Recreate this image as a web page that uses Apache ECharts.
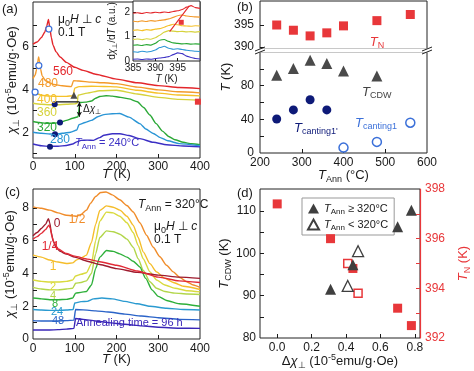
<!DOCTYPE html>
<html><head><meta charset="utf-8">
<script src="https://cdn.jsdelivr.net/npm/echarts@6/dist/echarts.min.js"></script>
<style>html,body{margin:0;padding:0;background:#fff}#c{width:474px;height:371px}</style>
</head><body><div id="c"></div>
<script>
const FONT = 'Arial, "Liberation Sans", Helvetica, sans-serif';

// ---------- panel (a): chi vs T for annealing temperatures ----------
const a560 = [[0,6.1],[10,6.2],[20,6.4],[28,6.65],[33,6.95],[37,7.25],[40,6.9],[44,6.4],[48,6.05],[55,5.75],[65,5.5],[80,5.25],[100,5.02],[120,4.88],[150,4.7],[200,4.47],[250,4.3],[300,4.17],[350,4.08],[400,4.03]];
const a480 = [[0,4.5],[5,4.65],[9,4.95],[12,5.35],[13.5,5.5],[15,5.35],[18,4.95],[22,4.62],[30,4.4],[50,4.22],[70,4.16],[92,4.12],[97,4.4],[110,4.38],[140,4.33],[170,4.3],[200,4.26],[250,4.1],[300,3.97],[350,3.88],[400,3.83]];
const a400 = [[0,3.85],[5,3.88],[10,3.79],[20,3.72],[40,3.68],[60,3.67],[80,3.67],[96,3.7],[100,4.05],[110,4.12],[140,4.14],[170,4.13],[200,4.11],[250,3.95],[300,3.82],[350,3.73],[400,3.69]];
const a360 = [[0,3.35],[20,3.3],[40,3.28],[60,3.28],[80,3.3],[100,3.32],[106,3.35],[108,3.72],[130,3.82],[160,3.93],[200,3.95],[250,3.78],[300,3.62],[350,3.53],[400,3.49]];
const a320 = [[0,2.5],[15,2.45],[30,2.42],[50,2.42],[65,2.45],[80,2.55],[95,2.65],[108,2.72],[112,3.38],[125,3.4],[140,3.45],[150,3.58],[160,3.66],[175,3.7],[190,3.68],[210,3.62],[230,3.55],[250,3.42],[265,3.15],[280,2.8],[295,2.4],[310,2.05],[325,1.8],[340,1.65],[360,1.53],[380,1.46],[400,1.42]];
const a280 = [[0,2.0],[20,1.95],[40,1.92],[55,1.92],[70,1.95],[90,2.0],[105,2.1],[110,2.35],[125,2.45],[140,2.55],[155,2.72],[170,2.82],[190,2.86],[208,2.87],[230,2.7],[256,2.4],[270,2.15],[288,1.94],[305,1.75],[323,1.6],[350,1.47],[400,1.37]];
const a240 = [[0,1.45],[20,1.37],[40,1.34],[60,1.35],[80,1.38],[95,1.45],[105,1.55],[115,1.62],[130,1.63],[145,1.62],[160,1.75],[170,1.86],[190,1.93],[208,1.93],[230,1.85],[256,1.7],[288,1.53],[320,1.42],[360,1.36],[400,1.32]];
const aExtrap = [[55,3.41],[111,3.41]];
const aDelta = [[111,3.41],[111,2.72]];
const aCanting1p = [[40.7,1.32],[52.7,1.91],[64.7,2.45],[52,3.3]];
const aCanting1 = [[5,3.87],[14,5.1],[38,6.8]];
const aCDW = [[98,3.72]];
const aTN = [[395,3.42]];

// ---------- inset: d chi / dT ----------
const insetT = [385,386,387,388,389,390,391,392,393,394,395,396,397,398,399,400];
const in560 = [1.95,1.97,1.94,1.98,1.96,1.99,1.97,2.0,1.98,2.02,2.05,2.1,2.2,2.26,2.18,2.15];
const in480 = [1.62,1.6,1.64,1.61,1.65,1.63,1.66,1.68,1.72,1.78,1.85,1.88,1.84,1.82,1.8,1.79];
const in400 = [1.25,1.27,1.24,1.28,1.26,1.3,1.32,1.38,1.45,1.5,1.48,1.44,1.43,1.42,1.44,1.43];
const in360 = [0.88,0.9,0.87,0.91,0.89,0.95,1.05,1.18,1.24,1.22,1.2,1.21,1.19,1.2,1.18,1.2];
const in320 = [0.64,0.66,0.63,0.67,0.65,0.72,0.85,0.88,0.8,0.74,0.72,0.7,0.71,0.69,0.7,0.69];
const in280 = [0.38,0.36,0.4,0.37,0.39,0.45,0.55,0.6,0.52,0.48,0.5,0.47,0.44,0.42,0.4,0.39];
const in240 = [0.07,0.08,0.06,0.08,0.07,0.1,0.12,0.14,0.18,0.26,0.33,0.3,0.2,0.14,0.1,0.08];
const inGuide = [[393.2,1.2],[397.6,2.25]];
const inTN = [[395.8,1.58]];

// ---------- panels (b) & (d) ----------
const annealT   = [240, 280, 320, 360, 400, 480, 560];
const tN        = [395.0, 393.8, 392.5, 393.2, 394.8, 396.0, 397.4];
const tCDW      = [92.3, 100.5, 110.2, 106.3, 97.3, 91.5, null];
const tCant1p   = [40.4, 51.2, 63.2, 51.2, null, null, null];
const tCant1    = [null, null, null, null, 6.4, 13.2, 36];
const deltaChi  = [0.41, 0.47, 0.78, 0.70, 0.44, 0.31, 0.0];

// ---------- panel (c): chi vs T for annealing times ----------
const c0  = [[0,6.3],[10,6.5],[20,6.75],[30,7.0],[37,7.35],[40,7.1],[44,6.5],[48,6.0],[55,5.6],[65,5.35],[80,5.18],[100,5.0],[130,4.75],[160,4.55],[200,4.3],[250,4.07],[300,3.9],[350,3.78],[400,3.7]];
const c14 = [[0,6.1],[10,6.25],[20,6.45],[30,6.68],[38,6.95],[41,6.8],[45,6.3],[50,5.9],[60,5.5],[80,5.22],[100,5.06],[130,4.88],[160,4.72],[200,4.5],[250,4.15],[300,3.78],[350,3.55],[400,3.45]];
const c12 = [[0,8.07],[20,7.98],[40,7.87],[60,7.7],[80,7.56],[95,7.52],[104,7.5],[115,7.6],[128,7.87],[138,8.3],[150,8.7],[162,8.95],[175,8.98],[190,8.8],[208,8.5],[225,8.15],[240,7.76],[256,7.1],[272,6.34],[288,5.6],[304,5.02],[320,4.5],[336,4.1],[352,3.75],[368,3.5],[384,3.3],[400,3.15]];
const c1  = [[0,5.12],[20,5.0],[40,4.82],[60,4.7],[80,4.61],[95,4.65],[104,4.82],[115,4.95],[128,5.12],[140,5.9],[150,7.0],[160,7.85],[176,8.13],[192,8.05],[208,7.87],[225,7.5],[240,6.95],[252,6.2],[264,5.32],[280,4.6],[296,4.1],[316,3.7],[336,3.45],[360,3.22],[400,3.02]];
const c2  = [[0,3.6],[20,3.52],[40,3.48],[60,3.48],[80,3.52],[95,3.6],[102,3.85],[115,3.95],[128,4.05],[140,4.6],[150,6.0],[160,7.2],[176,7.75],[192,7.7],[208,7.5],[225,7.1],[240,6.5],[252,5.7],[264,4.9],[280,4.1],[296,3.6],[316,3.3],[340,3.1],[370,2.95],[400,2.88]];
const c4  = [[0,3.15],[20,3.05],[40,3.0],[60,3.0],[80,3.05],[95,3.1],[102,3.4],[115,3.45],[128,3.55],[140,4.0],[150,5.2],[160,6.2],[176,6.6],[192,6.55],[208,6.4],[225,6.1],[240,5.6],[252,4.9],[264,4.2],[280,3.5],[296,3.1],[316,2.9],[340,2.8],[370,2.75],[400,2.72]];
const c8  = [[0,2.5],[20,2.45],[40,2.4],[60,2.4],[80,2.42],[95,2.5],[102,2.8],[115,2.85],[128,2.9],[140,3.3],[150,4.3],[160,5.0],[176,5.4],[192,5.35],[208,5.2],[225,5.0],[240,4.75],[256,4.4],[270,3.7],[285,3.0],[300,2.6],[320,2.35],[350,2.15],[400,2.0]];
const c24 = [[0,1.8],[20,1.77],[40,1.75],[60,1.75],[80,1.77],[96,1.8],[100,2.2],[115,2.28],[130,2.3],[145,2.45],[165,2.5],[190,2.45],[220,2.3],[250,2.15],[280,2.0],[320,1.88],[360,1.8],[400,1.77]];
const c48 = [[0,1.12],[20,1.1],[40,1.1],[60,1.1],[80,1.12],[98,1.15],[102,1.8],[120,1.78],[150,1.72],[180,1.65],[220,1.52],[260,1.4],[300,1.3],[350,1.2],[400,1.17]];
const c96 = [[0,0.55],[20,0.55],[40,0.55],[60,0.57],[80,0.6],[98,0.65],[102,1.25],[120,1.2],[150,1.1],[180,1.0],[220,0.9],[260,0.8],[300,0.72],[350,0.66],[400,0.65]];

// ---------- styling ----------
const COL = {
  a560:'#e3262b', a480:'#f39a2b', a400:'#f5c12a', a360:'#d6d23c', a320:'#2aa836', a280:'#2a95d5', a240:'#3b2fc4',
  c0:'#9e1b2e', c14:'#e22a36', c12:'#f08c2a', c1:'#f5bd2a', c2:'#d9da3e', c4:'#b2d64a', c8:'#2eb03a', c24:'#2a9ad0', c48:'#2a63c8', c96:'#3a26b8',
  red:'#e8373a', gray:'#4a4a4a', navy:'#0e1a78', blue:'#3b70d9', ink:'#1a1a1a'
};
function rich(color, size) {
  const lh = size + 4, ss = Math.round(size * 0.72);
  return {
    n:{fontFamily:FONT,fontSize:size,color:color,fill:color,lineHeight:lh},
    i:{fontFamily:FONT,fontSize:size,fontStyle:'italic',color:color,fill:color,lineHeight:lh},
    s:{fontFamily:FONT,fontSize:ss,color:color,fill:color,lineHeight:ss+1,verticalAlign:'bottom'},
    p:{fontFamily:FONT,fontSize:ss,color:color,fill:color,lineHeight:ss+1,verticalAlign:'top'}
  };
}
function T(x, y, text, color, size, opt) {
  opt = opt || {};
  return {type:'text', x:x, y:y, z:100, rotation:opt.rot||0,
    style:{text:text, fill:color, fontFamily:FONT, fontSize:size, align:opt.align||'left', verticalAlign:'middle', lineHeight:size+4, rich:rich(color,size)}};
}
function nameStyle(color, size) {
  return {color:color, fontFamily:FONT, fontSize:size, lineHeight:size+4, rich:rich(color,size)};
}
const lbl = (size, color) => ({fontFamily:FONT, fontSize:size||12, color:color||COL.ink});
const tick = (vals, color) => ({inside:true, length:4, lineStyle:{color:color||COL.ink, width:1}, customValues:vals});
const noLine = {show:false, onZero:false};
function line(data, color, xi, yi, w) {
  return {type:'line', xAxisIndex:xi, yAxisIndex:yi, data:data, symbol:'none', showSymbol:false, smooth:0.2, smoothMonotone:'x',
    lineStyle:{color:color, width:w||1.4}, silent:true, z:3};
}
function scat(data, xi, yi, symbol, size, fill, border, bw, name) {
  return {type:'scatter', name:name, xAxisIndex:xi, yAxisIndex:yi, data:data, symbol:symbol, symbolSize:size,
    itemStyle:{color:fill, borderColor:border||fill, borderWidth:bw||0, opacity:1}, silent:true, z:5};
}
const pair = (xs, ys) => xs.map((x,i)=>[x, ys[i]]).filter(p => p[1] !== null && p[1] !== undefined);
const gridBase = {show:true, borderColor:'#222', borderWidth:1, backgroundColor:'transparent', containLabel:false};
const ge = (d,i) => annealT[i] >= 320, lt = (d,i) => annealT[i] < 320;

const series = [
  line(a560, COL.a560, 0, 0), line(a480, COL.a480, 0, 0), line(a400, COL.a400, 0, 0), line(a360, COL.a360, 0, 0),
  line(a320, COL.a320, 0, 0), line(a280, COL.a280, 0, 0), line(a240, COL.a240, 0, 0),
  Object.assign(line(aExtrap, '#111', 0, 0, 1.4), {smooth:false,
    markLine:{silent:true, symbol:['arrow','arrow'], symbolSize:[4,5], lineStyle:{color:'#111', width:1, type:'solid'}, label:{show:false},
      data:[[{coord:aDelta[0]},{coord:aDelta[1]}]]}}),
  scat(aCanting1p, 0, 0, 'circle', 6, COL.navy),
  scat(aCanting1, 0, 0, 'circle', 6, '#fff', COL.blue, 1.2),
  scat(aCDW, 0, 0, 'triangle', 7, COL.gray),
  scat(aTN, 0, 0, 'rect', 6, COL.red),
  // inset
  line(pair(insetT, in560), COL.a560, 1, 1, 1.1), line(pair(insetT, in480), COL.a480, 1, 1, 1.1),
  line(pair(insetT, in400), COL.a400, 1, 1, 1.1), line(pair(insetT, in360), COL.a360, 1, 1, 1.1),
  line(pair(insetT, in320), COL.a320, 1, 1, 1.1), line(pair(insetT, in280), COL.a280, 1, 1, 1.1),
  line(pair(insetT, in240), COL.a240, 1, 1, 1.1),
  Object.assign(line(inGuide, COL.a560, 1, 1, 1.1), {smooth:false}),
  scat(inTN, 1, 1, 'rect', 5, COL.red),
  // (b)
  scat(pair(annealT, tN), 2, 2, 'rect', 9, COL.red),
  scat(pair(annealT, tCDW), 3, 3, 'triangle', 11, COL.gray),
  scat(pair(annealT, tCant1p), 3, 3, 'circle', 9, COL.navy),
  scat(pair(annealT, tCant1), 3, 3, 'circle', 9, '#fff', COL.blue, 1.5),
  // (c)
  line(c12, COL.c12, 4, 4), line(c1, COL.c1, 4, 4), line(c2, COL.c2, 4, 4), line(c4, COL.c4, 4, 4),
  line(c8, COL.c8, 4, 4), line(c24, COL.c24, 4, 4), line(c48, COL.c48, 4, 4), line(c96, COL.c96, 4, 4),
  line(c0, COL.c0, 4, 4), line(c14, COL.c14, 4, 4),
  // (d)
  scat(pair(deltaChi.filter(ge), tN.filter(ge)), 5, 6, 'rect', 9, COL.red),
  scat(pair(deltaChi.filter(lt), tN.filter(lt)), 5, 6, 'rect', 8, '#fff', COL.red, 1.5),
  scat(pair(deltaChi.filter(ge), tCDW.filter(ge)), 5, 5, 'triangle', 11, '#3f3f3f', '#3f3f3f', 0, 'ge'),
  scat(pair(deltaChi.filter(lt), tCDW.filter(lt)), 5, 5, 'triangle', 11, '#fff', '#3f3f3f', 1.3, 'lt')
];

const NM = {nameLocation:'middle', nameMoveOverlap:false};
const option = {
  animation:false,
  backgroundColor:'#fff',
  textStyle:{fontFamily:FONT},
  grid:[
    Object.assign({left:33, top:2, width:167, height:156}, gridBase),
    Object.assign({left:133, top:1, width:67, height:60}, gridBase, {backgroundColor:'#fff'}),
    Object.assign({left:260, top:1, width:167, height:48}, gridBase),
    Object.assign({left:260, top:52, width:167, height:101}, gridBase),
    Object.assign({left:33, top:189, width:167, height:150}, gridBase),
    Object.assign({left:260, top:189, width:160, height:150}, gridBase)
  ],
  xAxis:[
    Object.assign({gridIndex:0, type:'value', min:0, max:400, interval:100, axisLine:noLine, splitLine:{show:false},
     axisTick:tick([100,200,300]), axisLabel:Object.assign(lbl(12), {margin:3, customValues:[0,100,200,300,400]}),
     name:'{i|T} (K)', nameGap:8, nameTextStyle:nameStyle(COL.ink,13)}, NM),
    Object.assign({gridIndex:1, type:'value', min:385, max:400, axisLine:noLine, splitLine:{show:false},
     axisTick:Object.assign(tick([390,395]), {length:3}), axisLabel:Object.assign(lbl(10), {margin:2, customValues:[385,390,395]}),
     name:'{i|T} (K)', nameGap:11, nameTextStyle:nameStyle(COL.ink,10)}, NM),
    {gridIndex:2, type:'value', min:200, max:600, show:false, axisLine:noLine},
    Object.assign({gridIndex:3, type:'value', min:200, max:600, interval:100, axisLine:noLine, splitLine:{show:false},
     axisTick:tick([300,400,500]), axisLabel:Object.assign(lbl(12), {margin:4, customValues:[200,300,400,500,600]}),
     name:'{i|T}{s|Ann} (°C)', nameGap:14, nameTextStyle:nameStyle(COL.ink,13)}, NM),
    Object.assign({gridIndex:4, type:'value', min:0, max:400, interval:100, axisLine:noLine, splitLine:{show:false},
     axisTick:tick([100,200,300]), axisLabel:Object.assign(lbl(12), {margin:4, customValues:[0,100,200,300,400]}),
     name:'{i|T} (K)', nameGap:12, nameTextStyle:nameStyle(COL.ink,13)}, NM),
    Object.assign({gridIndex:5, type:'value', min:-0.1, max:0.83, axisLine:noLine, splitLine:{show:false},
     axisTick:tick([0,0.2,0.4,0.6,0.8]), axisLabel:Object.assign(lbl(12), {margin:4, customValues:[0,0.2,0.4,0.6,0.8], formatter:v=>Number(v).toFixed(1)}),
     name:'Δ{i|χ}{s|⊥} (10{p|-5}emu/g·Oe)', nameGap:15, nameTextStyle:nameStyle(COL.ink,13)}, NM)
  ],
  yAxis:[
    Object.assign({gridIndex:0, type:'value', min:0.8, max:8.06, axisLine:noLine, splitLine:{show:false},
     axisTick:tick([1,2,3,4,5,6,7]), axisLabel:Object.assign(lbl(12), {margin:4, customValues:[2,4,6]}),
     name:'{i|χ}{s|⊥} (10{p|-5}emu/g·Oe)', nameRotate:90, nameGap:12, nameTextStyle:nameStyle(COL.ink,13)}, NM),
    Object.assign({gridIndex:1, type:'value', min:0, max:2.45, axisLine:noLine, splitLine:{show:false},
     axisTick:Object.assign(tick([1,2]), {length:3}), axisLabel:Object.assign(lbl(10), {margin:3, customValues:[0,1,2]}),
     name:'d{i|χ}{s|⊥}/d{i|T} (a.u.)', nameRotate:90, nameGap:14, nameTextStyle:nameStyle(COL.ink,10)}, NM),
    {gridIndex:2, type:'value', min:389.5, max:400.5, axisLine:noLine, splitLine:{show:false},
     axisTick:tick([390,395]), axisLabel:Object.assign(lbl(12), {margin:6, customValues:[390,395]})},
    {gridIndex:3, type:'value', min:0, max:120, axisLine:noLine, splitLine:{show:false},
     axisTick:tick([20,40,60,80,100]), axisLabel:Object.assign(lbl(12), {margin:6, customValues:[0,40,80]})},
    Object.assign({gridIndex:4, type:'value', min:0, max:9.16, axisLine:noLine, splitLine:{show:false},
     axisTick:tick([1,2,3,4,5,6,7,8]), axisLabel:Object.assign(lbl(12), {margin:4, customValues:[0,2,4,6,8]}),
     name:'{i|χ}{s|⊥} (10{p|-5}emu/g·Oe)', nameRotate:90, nameGap:14, nameTextStyle:nameStyle(COL.ink,13)}, NM),
    Object.assign({gridIndex:5, type:'value', position:'left', min:80, max:115.2, axisLine:noLine, splitLine:{show:false},
     axisTick:tick([85,90,95,100,105,110]), axisLabel:Object.assign(lbl(12), {margin:4, customValues:[80,90,100,110]}),
     name:'{i|T}{s|CDW} (K)', nameRotate:90, nameGap:27, nameTextStyle:nameStyle(COL.ink,13)}, NM),
    Object.assign({gridIndex:5, type:'value', position:'right', min:392, max:398, interval:2, z:10,
     axisLine:{show:true, onZero:false, lineStyle:{color:COL.red, width:1.2}}, splitLine:{show:false},
     axisTick:tick([393,394,395,396,397], COL.red), axisLabel:Object.assign(lbl(12, COL.red), {margin:5, customValues:[392,394,396,398]}),
     name:'{i|T}{s|N} (K)', nameRotate:90, nameGap:35, nameTextStyle:nameStyle(COL.red,13)}, NM)
  ],
  legend:{
    data:['ge','lt'], left:302, top:198, orient:'vertical', itemGap:1, itemWidth:11, itemHeight:10,
    padding:[3,6,3,5], borderColor:'#999', borderWidth:1, backgroundColor:'#fff', selectedMode:false,
    formatter:n => n === 'ge' ? '{i|T}{s|Ann} ≥ 320°C' : '{i|T}{s|Ann} < 320°C',
    textStyle:Object.assign(nameStyle(COL.ink,11), {padding:[0,0,0,0]})
  },
  graphic:{elements:[
    // break of axis in (b)
    {type:'rect', z:90, shape:{x:256, y:48.5, width:175, height:4}, style:{fill:'#fff'}},
    {type:'line', z:95, shape:{x1:255, y1:51, x2:265, y2:47}, style:{stroke:'#222', lineWidth:1}},
    {type:'line', z:95, shape:{x1:255, y1:54, x2:265, y2:50}, style:{stroke:'#222', lineWidth:1}},
    {type:'line', z:95, shape:{x1:422, y1:51, x2:432, y2:47}, style:{stroke:'#222', lineWidth:1}},
    {type:'line', z:95, shape:{x1:422, y1:54, x2:432, y2:50}, style:{stroke:'#222', lineWidth:1}},
    // (a)
    T(2, 9, '(a)', COL.ink, 13),
    T(63, 72, '560', COL.a560, 12, {align:'center'}),
    T(48, 84, '480', COL.a480, 12, {align:'center'}),
    T(47, 100, '400', COL.a400, 12, {align:'center'}),
    T(47, 113, '360', COL.a360, 12, {align:'center'}),
    T(47, 128, '320', COL.a320, 12, {align:'center'}),
    T(60, 140, '280', COL.a280, 12, {align:'center'}),
    T(75, 143, '{i|T}{s|Ann} = 240°C', COL.a240, 11),
    T(58, 20, 'μ{s|0}{i|H} ⊥ {i|c}', COL.ink, 12),
    T(58, 33, '0.1 T', COL.ink, 12),
    T(83, 109, 'Δ{i|χ}{s|⊥}', COL.ink, 10),
    // (b)
    T(237, 7, '(b)', COL.ink, 13),
    T(226, 77, '{i|T} (K)', COL.ink, 13, {align:'center', rot:Math.PI/2}),
    T(377, 42, '{i|T}{s|N}', COL.red, 13, {align:'center'}),
    T(362, 92, '{i|T}{s|CDW}', '#444', 13),
    T(294, 128, "{i|T}{s|canting1'}", COL.navy, 13),
    T(355, 123, '{i|T}{s|canting1}', COL.blue, 13),
    // (c)
    T(5, 192, '(c)', COL.ink, 13),
    T(57, 224, '0', COL.c0, 12, {align:'center'}),
    T(50, 247, '1/4', COL.c14, 12, {align:'center'}),
    T(77, 220, '1/2', COL.c12, 12, {align:'center'}),
    T(53, 267, '1', COL.c1, 12, {align:'center'}),
    T(53, 287, '2', COL.c2, 11, {align:'center'}),
    T(53, 296, '4', COL.c4, 11, {align:'center'}),
    T(55, 304, '8', COL.c8, 11, {align:'center'}),
    T(57, 312, '24', COL.c24, 11, {align:'center'}),
    T(58, 321, '48', COL.c48, 11, {align:'center'}),
    T(76, 323, 'Annealing time = 96 h', COL.c96, 11),
    T(138, 205, '{i|T}{s|Ann} = 320°C', COL.ink, 12),
    T(154, 227, 'μ{s|0}{i|H} ⊥ {i|c}', COL.ink, 12),
    T(154, 240, '0.1 T', COL.ink, 12),
    // (d)
    T(237, 193, '(d)', COL.ink, 13)
  ]},
  series:series
};
const chart = echarts.init(document.getElementById('c'), null, {renderer:'canvas', width:474, height:371});
chart.setOption(option);
</script></body></html>
